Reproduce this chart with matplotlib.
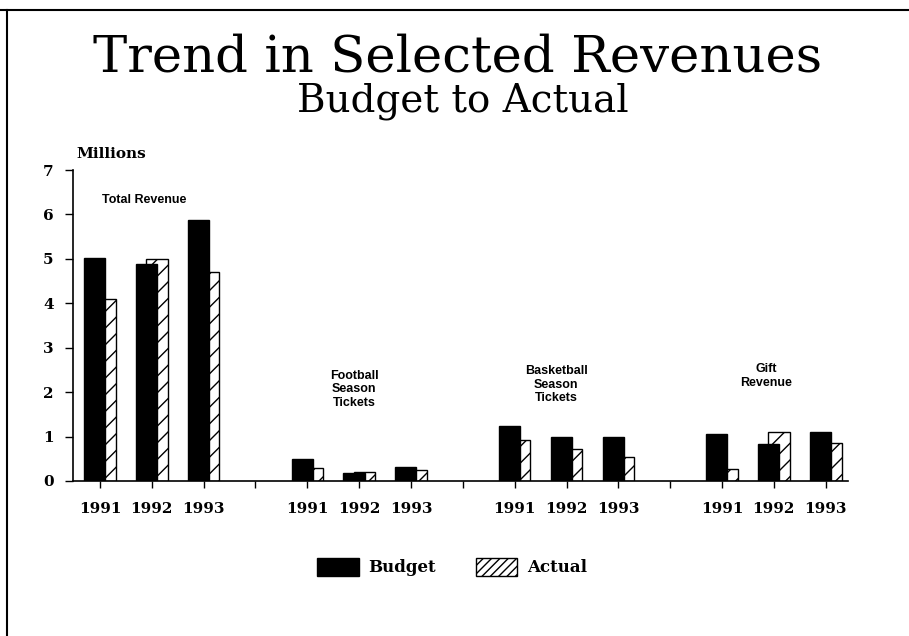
import matplotlib.pyplot as plt
import numpy as np
from matplotlib.patches import Patch

# data
groups = ["Total Revenue", "Football\nSeason\nTickets", "Basketball\nSeason\nTickets", "Gift\nRevenue"]
years = ["1991", "1992", "1993"]
budget = [
    [5.03, 4.89, 5.88],
    [0.50, 0.19, 0.32],
    [1.23, 0.98, 0.99],
    [1.05, 0.83, 1.11],
]
actual = [
    [4.09, 4.99, 4.71],
    [0.29, 0.20, 0.25],
    [0.93, 0.71, 0.53],
    [0.27, 1.10, 0.86],
]
y_ticks = [0, 1, 2, 3, 4, 5, 6, 7]

SERIF = "DejaVu Serif"
SANS = "Liberation Sans"

fig = plt.figure(figsize=(9.09, 6.36), dpi=100)
ax = fig.add_axes([73 / 909, 1 - 481 / 636, (848 - 73) / 909, (481 - 170) / 636])

# each group takes 3 slots plus one empty slot
gap = len(years) + 1
x = np.concatenate([np.arange(len(years)) + g * gap for g in range(len(groups))])
width = 0.41
offset = 0.1

b_vals = np.array(budget).ravel()
a_vals = np.array(actual).ravel()

ax.bar(x + offset, a_vals, width, facecolor="white", edgecolor="black",
       hatch="//", linewidth=1.0, zorder=2)
ax.bar(x - offset, b_vals, width, color="black", edgecolor="black", zorder=3)

# group labels above each group
label_y = [6.45, 2.5, 2.6, 2.65]
label_dx = [-0.15, -0.1, -0.2, -0.15]
for g, name in enumerate(groups):
    cx = g * gap + 1 + label_dx[g]
    ax.text(cx, label_y[g], name, ha="center", va="top", fontsize=9,
            fontweight="bold", family=SANS, linespacing=1.15)

ax.set_xlim(-0.52, 14.43)
ax.set_ylim(0, 7)
ax.set_xticks(np.arange(0, 15))
ax.set_xticklabels([years[i % gap] if i % gap < len(years) else "" for i in range(15)],
                   fontsize=11, fontweight="bold", family=SERIF)
ax.set_yticks(y_ticks)
ax.set_yticklabels([str(v) for v in y_ticks], fontsize=11, fontweight="bold", family=SERIF)
ax.tick_params(axis="x", direction="out", length=5, width=1, pad=10)
ax.tick_params(axis="y", direction="out", length=6, width=1, pad=8)
for side in ["top", "right"]:
    ax.spines[side].set_visible(False)
for side in ["left", "bottom"]:
    ax.spines[side].set_linewidth(1.2)

fig.text(76 / 909, 1 - 158 / 636, "Millions", fontsize=11, fontweight="bold",
         family=SERIF, ha="left", va="baseline")

fig.text(458 / 909, 1 - 71 / 636, "Trend in Selected Revenues", fontsize=37,
         family=SERIF, ha="center", va="baseline")
fig.text(463 / 909, 1 - 112 / 636, "Budget to Actual", fontsize=28,
         family=SERIF, ha="center", va="baseline")

handles = [
    Patch(facecolor="black", edgecolor="black", label="Budget"),
    Patch(facecolor="white", edgecolor="black", hatch="////", label="Actual"),
]
fig.legend(handles=handles, loc="center", bbox_to_anchor=(452 / 909, 1 - 567 / 636),
           ncol=2, frameon=False, prop={"family": SERIF, "weight": "bold", "size": 12},
           handlelength=2.5, handleheight=1.3, handletextpad=0.55, columnspacing=2.4)

# page frame lines (top and left)
fig.add_artist(plt.Line2D([0, 1], [1 - 10 / 636] * 2, color="black", linewidth=1.5))
fig.add_artist(plt.Line2D([7 / 909] * 2, [0, 1 - 10 / 636], color="black", linewidth=1.5))

fig.savefig("out.png", dpi=100)
